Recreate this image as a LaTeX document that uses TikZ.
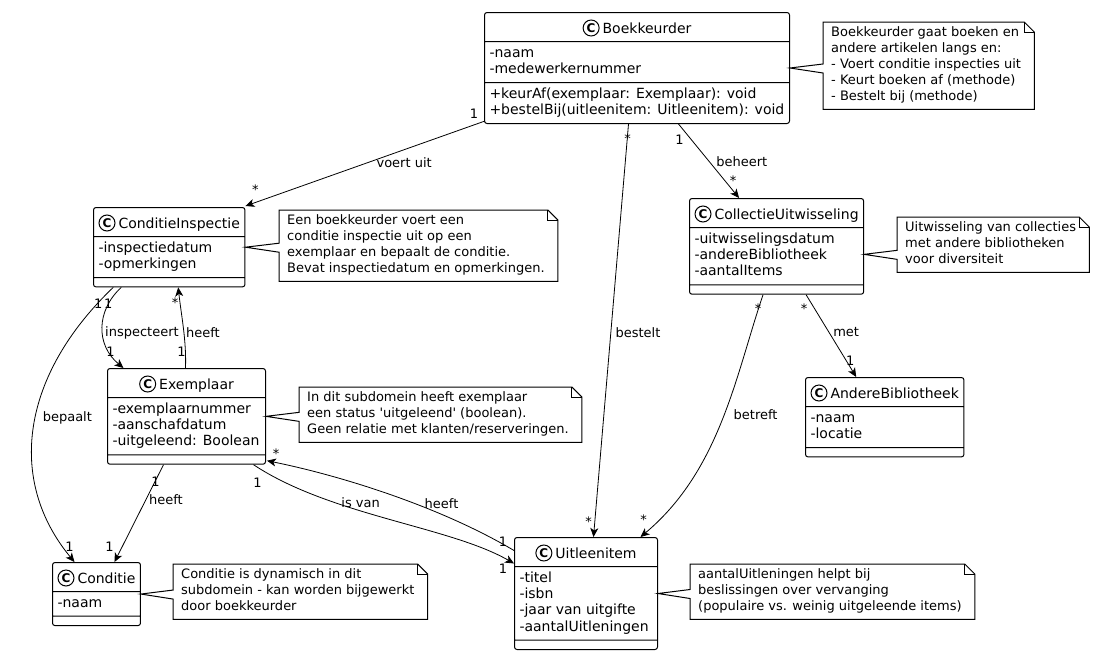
\documentclass[tikz,border=0pt]{standalone}
\usepackage{fontspec}
\setmainfont{DejaVu Sans}
\usetikzlibrary{shapes.multipart,arrows.meta,calc}

\tikzset{
    umlclass/.style={rectangle split, rectangle split parts=3,
        rectangle split part align={center,left,left},
        draw, line width=1pt, rounded corners=2.5pt, anchor=north west,
        inner xsep=5pt, inner ysep=3.7pt, align=left,
        font=\fontsize{14}{16.3}\selectfont},
    classicon/.style={circle, draw, line width=1pt, inner sep=0pt, minimum size=16pt, anchor=center,
        font=\fontsize{12}{12}\bfseries\selectfont},
    note/.style={anchor=north west, align=left, inner xsep=8pt, inner ysep=3.5pt,
        font=\fontsize{13}{16}\selectfont},
    assoc/.style={line width=0.8pt, -{Stealth[length=9pt,width=8pt,inset=2.5pt]}},
    lbl/.style={font=\fontsize{13}{16}\selectfont, inner sep=0pt},
}
\newcommand{\classhead}[1]{\rule[-4.3pt]{0pt}{20.6pt}\tikz[baseline=-5pt]\node[classicon]{C};\hspace{3pt}#1}
\newcommand{\nomethods}{\rule{0pt}{1pt}}

\begin{document}
\begin{tikzpicture}[x=1pt,y=-1pt]
    \fill[white] (0,0) rectangle (1094,653);
    \useasboundingbox (0,0) rectangle (1094,653);

    \node[umlclass, minimum width=305pt] (boek) at (484,12)
        {\classhead{Boekkeurder}
         \nodepart{two}\strut-naam\\-medewerkernummer\strut
         \nodepart{three}\strut+keurAf(exemplaar: Exemplaar): void\\+bestelBij(uitleenitem: Uitleenitem): void\strut};
    \node[umlclass, minimum width=150pt] (insp) at (93,207)
        {\classhead{ConditieInspectie}
         \nodepart{two}\strut-inspectiedatum\\-opmerkingen\strut
         \nodepart{three}\nomethods};
    \node[umlclass, minimum width=173pt] (coll) at (689,198)
        {\classhead{CollectieUitwisseling}
         \nodepart{two}\strut-uitwisselingsdatum\\-andereBibliotheek\\-aantalItems\strut
         \nodepart{three}\nomethods};
    \node[umlclass, minimum width=158pt] (exem) at (107,368)
        {\classhead{Exemplaar}
         \nodepart{two}\strut-exemplaarnummer\\-aanschafdatum\\-uitgeleend: Boolean\strut
         \nodepart{three}\nomethods};
    \node[umlclass, minimum width=86pt] (cond) at (52,562)
        {\classhead{Conditie}
         \nodepart{two}\strut-naam\strut
         \nodepart{three}\nomethods};
    \node[umlclass, minimum width=143pt] (item) at (514,537)
        {\classhead{Uitleenitem}
         \nodepart{two}\strut-titel\\-isbn\\-jaar van uitgifte\\-aantalUitleningen\strut
         \nodepart{three}\nomethods};
    \node[umlclass, minimum width=157pt] (andere) at (805,377)
        {\classhead{AndereBibliotheek}
         \nodepart{two}\strut-naam\\-locatie\strut
         \nodepart{three}\nomethods};

    \node[note] (nboek) at (823,22) {\strut Boekkeurder gaat boeken en\\andere artikelen langs en:\\- Voert conditie inspecties uit\\- Keurt boeken af (methode)\\- Bestelt bij (methode)\strut};
    \node[note] (ninsp) at (279,210) {\strut Een boekkeurder voert een\\conditie inspectie uit op een\\exemplaar en bepaalt de conditie.\\Bevat inspectiedatum en opmerkingen.\strut};
    \node[note] (ncoll) at (897,217) {\strut Uitwisseling van collecties\\met andere bibliotheken\\voor diversiteit\strut};
    \node[note] (nexem) at (299,387) {\strut In dit subdomein heeft exemplaar\\een status \textquotesingle uitgeleend\textquotesingle{} (boolean).\\Geen relatie met klanten/reserveringen.\strut};
    \node[note] (ncond) at (173,564) {\strut Conditie is dynamisch in dit\\subdomein - kan worden bijgewerkt\\door boekkeurder\strut};
    \node[note] (nitem) at (690,564) {\strut aantalUitleningen helpt bij\\beslissingen over vervanging\\(populaire vs. weinig uitgeleende items)\strut};

    \coordinate (colltip) at ([shift={(0,8)}]coll.east);
    \foreach \nt/\tip in {nboek/boek.east, ninsp/insp.east, ncoll/colltip, nexem/exem.east, ncond/cond.east, nitem/item.east} {
        \draw[line width=1pt] (\nt.north west) -- ($(\nt.north east)+(-5,0)$) -- ($(\nt.north east)+(5,10)$)
            -- ($(\nt.south east)+(5,0)$) -- (\nt.south west) -- ($(\tip -| \nt.west)+(0,5)$)
            -- (\tip) -- ($(\tip -| \nt.west)+(0,-4)$) -- cycle;
        \draw[line width=1pt] ($(\nt.north east)+(-5,0)$) |- ($(\nt.north east)+(5,10)$);
    }

    \draw[assoc] ([shift={(1,-3)}]boek.south west) -- ([shift={(0,-1)}]insp.north east)
        node[lbl, pos=0.35, shift={(3,12)}] {voert uit}
        node[lbl, at start, shift={(-11,-7)}] {1}
        node[lbl, at end, shift={(10,-16)}] {*};
    \draw[assoc] ([shift={(-8.5,0)}]boek.south) -- ([shift={(7.5,0)}]item.north)
        node[lbl, pos=0.5, shift={(27,2)}] {bestelt}
        node[lbl, at start, shift={(-1,15)}] {*}
        node[lbl, at end, shift={(-5,-15)}] {*};
    \draw[assoc] ([shift={(41.5,0)}]boek.south) -- ([shift={(-37.5,0)}]coll.north)
        node[lbl, pos=0.5, shift={(33,1)}] {beheert}
        node[lbl, at start, shift={(1,16)}] {1}
        node[lbl, at end, shift={(-6,-17)}] {*};
    \draw[assoc] ([shift={(-48,0)}]insp.south) .. controls +(-25,23) and +(-28,-23) .. ([shift={(-63,0)}]exem.north)
        node[lbl, pos=0.5, shift={(39.5,5)}] {inspecteert}
        node[lbl, at start, shift={(-13,16)}] {1}
        node[lbl, at end, shift={(-13,-16)}] {1};
    \draw[assoc] ([shift={(-1,0)}]exem.north) .. controls +(1,-28) and +(3,28) .. ([shift={(9,0)}]insp.south)
        node[lbl, pos=0.5, shift={(19.5,5)}] {heeft}
        node[lbl, at start, shift={(-4,-16)}] {1}
        node[lbl, at end, shift={(-3,15)}] {*};
    \draw[assoc] ([shift={(-56,0)}]insp.south) .. controls +(-92,88) and +(-68,-82) .. ([shift={(-22,0)}]cond.north)
        node[lbl, pos=0.5, shift={(33.5,-9)}] {bepaalt}
        node[lbl, at start, shift={(-15,16)}] {1}
        node[lbl, at end, shift={(-5,-15)}] {1};
    \draw[assoc] ([shift={(-23,0)}]exem.south) -- ([shift={(18,0)}]cond.north)
        node[lbl, pos=0.5, shift={(27,-13.5)}] {heeft}
        node[lbl, at start, shift={(-8,17)}] {1}
        node[lbl, at end, shift={(-5,-15)}] {1};
    \draw[assoc] ([shift={(67,0)}]exem.south) .. controls +(77,51) and +(-64,-37) .. ([shift={(0,-30)}]item.west)
        node[lbl, pos=0.5, shift={(-28,-17)}] {is van}
        node[lbl, at start, shift={(4,18)}] {1}
        node[lbl, at end, shift={(-11,5)}] {1};
    \draw[assoc] ([shift={(0,-43)}]item.west) .. controls +(-74,-44) and +(74,15) .. ([shift={(1,-4)}]exem.south east)
        node[lbl, pos=0.5, shift={(51,9)}] {heeft}
        node[lbl, at start, shift={(-11,-9)}] {1}
        node[lbl, at end, shift={(9,-7)}] {*};
    \draw[assoc] ([shift={(29.5,0)}]coll.south) -- ([shift={(-28.5,0)}]andere.north)
        node[lbl, pos=0.5, shift={(15,-4)}] {met}
        node[lbl, at start, shift={(-2,14)}] {*}
        node[lbl, at end, shift={(-6,-16)}] {1};
    \draw[assoc] ([shift={(-13.5,0)}]coll.south) .. controls +(-27,79) and +(80,-67) .. ([shift={(54.5,0)}]item.north)
        node[lbl, pos=0.5, shift={(34,-5.5)}] {betreft}
        node[lbl, at start, shift={(-5,14)}] {*}
        node[lbl, at end, shift={(3,-17)}] {*};
\end{tikzpicture}
\end{document}
